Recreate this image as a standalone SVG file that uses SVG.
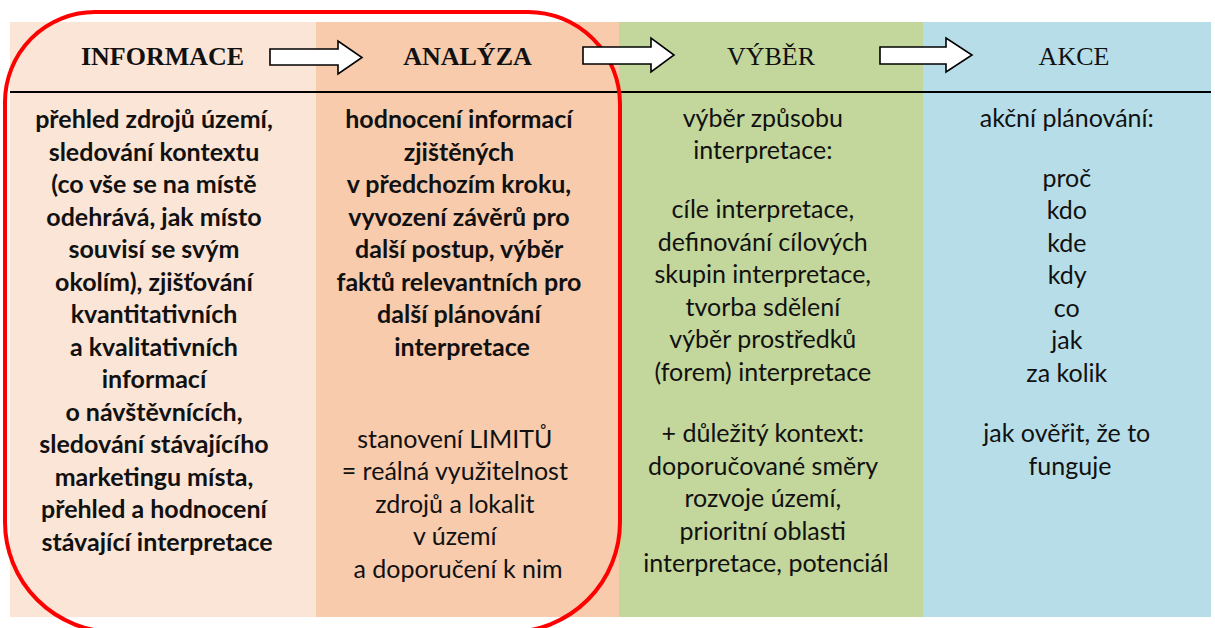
<svg xmlns="http://www.w3.org/2000/svg" width="1215" height="628" viewBox="0 0 1215 628">
<style>
.hb{font-family:"Liberation Serif","Times New Roman",serif;font-weight:bold;font-size:26px;fill:#111;text-anchor:middle}
.hr{font-family:"Liberation Serif","Times New Roman",serif;font-size:26px;fill:#111;text-anchor:middle}
.b{font-family:Lato,"Liberation Sans",sans-serif;font-weight:bold;font-size:25px;fill:#111;text-anchor:middle}
.r{font-family:Lato,"Liberation Sans",sans-serif;font-size:25px;fill:#111;text-anchor:middle}
.arrow{fill:#fff;stroke:#000;stroke-width:1.6;stroke-linejoin:miter}
</style>
<rect width="1215" height="628" fill="#fff"/>
<g id="col-informace">
<rect x="10" y="22" width="306" height="595" fill="#FBE5D6"/>
<text class="hb" x="162.5" y="65">INFORMACE</text>
<text class="b" x="157">
<tspan x="157" y="128">přehled zdrojů území,</tspan>
<tspan x="157" y="160.5">sledování kontextu</tspan>
<tspan x="157" y="193">(co vše se na místě</tspan>
<tspan x="157" y="225.5">odehrává, jak místo</tspan>
<tspan x="157" y="258">souvisí se svým</tspan>
<tspan x="157" y="290.5">okolím), zjišťování</tspan>
<tspan x="157" y="323">kvantitativních</tspan>
<tspan x="157" y="355.5">a kvalitativních</tspan>
<tspan x="157" y="388">informací</tspan>
<tspan x="157" y="420.5">o návštěvnících,</tspan>
<tspan x="157" y="453">sledování stávajícího</tspan>
<tspan x="157" y="485.5">marketingu místa,</tspan>
<tspan x="157" y="518">přehled a hodnocení</tspan>
<tspan x="157" y="550.5">stávající interpretace</tspan>
</text>
</g>
<g id="col-analyza">
<rect x="316" y="22" width="303" height="595" fill="#F8CBAD"/>
<text class="hb" x="467.5" y="65">ANALÝZA</text>
<text class="b">
<tspan x="462" y="128">hodnocení informací</tspan>
<tspan x="462" y="160.5">zjištěných</tspan>
<tspan x="462" y="193">v předchozím kroku,</tspan>
<tspan x="462" y="225.5">vyvození závěrů pro</tspan>
<tspan x="462" y="258">další postup, výběr</tspan>
<tspan x="462" y="290.5">faktů relevantních pro</tspan>
<tspan x="462" y="323">další plánování</tspan>
<tspan x="462" y="355.5">interpretace</tspan>
</text>
<text class="r">
<tspan x="458" y="447.5">stanovení LIMITŮ</tspan>
<tspan x="458" y="480">= reálná využitelnost</tspan>
<tspan x="458" y="512.5">zdrojů a lokalit</tspan>
<tspan x="458" y="545">v území</tspan>
<tspan x="458" y="577.5">a doporučení k nim</tspan>
</text>
</g>
<g id="col-vyber">
<rect x="619" y="22" width="304" height="595" fill="#C3D69B"/>
<text class="hr" x="771" y="65">VÝBĚR</text>
<text class="r">
<tspan x="766" y="127">výběr způsobu</tspan>
<tspan x="766" y="159">interpretace:</tspan>
<tspan x="766" y="218">cíle interpretace,</tspan>
<tspan x="766" y="250.5">definování cílových</tspan>
<tspan x="766" y="283">skupin interpretace,</tspan>
<tspan x="766" y="315.5">tvorba sdělení</tspan>
<tspan x="766" y="348">výběr prostředků</tspan>
<tspan x="766" y="380.5">(forem) interpretace</tspan>
<tspan x="766" y="442">+ důležitý kontext:</tspan>
<tspan x="766" y="474.5">doporučované směry</tspan>
<tspan x="766" y="507">rozvoje území,</tspan>
<tspan x="766" y="539.5">prioritní oblasti</tspan>
<tspan x="766" y="572">interpretace, potenciál</tspan>
</text>
</g>
<g id="col-akce">
<rect x="923" y="22" width="288" height="595" fill="#B7DEE8"/>
<text class="hr" x="1074" y="65">AKCE</text>
<text class="r">
<tspan x="1070" y="127">akční plánování:</tspan>
<tspan x="1070" y="187">proč</tspan>
<tspan x="1070" y="219">kdo</tspan>
<tspan x="1070" y="251.5">kde</tspan>
<tspan x="1070" y="284">kdy</tspan>
<tspan x="1070" y="316.5">co</tspan>
<tspan x="1070" y="349">jak</tspan>
<tspan x="1070" y="381.5">za kolik</tspan>
<tspan x="1070" y="442">jak ověřit, že to</tspan>
<tspan x="1070" y="474.5">funguje</tspan>
</text>
</g>
<line x1="10" y1="92" x2="1211" y2="92" stroke="#000" stroke-width="2"/>
<g id="highlight">
<path d="M95,12 H528 A92,92 0 0 1 620,104 V522 A110,110 0 0 1 510,632 H115 A110,110 0 0 1 5,522 V102 A90,90 0 0 1 95,12 Z" fill="none" stroke="#FF0000" stroke-width="4"/>
</g>
<g id="connectors">
<polygon class="arrow" points="270,49 338,49 338,41 362,57.5 338,74 338,65 270,65"/>
<polygon class="arrow" points="583,47 651,47 651,38 674,55 651,72 651,64 583,64"/>
<polygon class="arrow" points="880,47 946,47 946,38 972,55 946,72 946,64 880,64"/>
</g>
</svg>
